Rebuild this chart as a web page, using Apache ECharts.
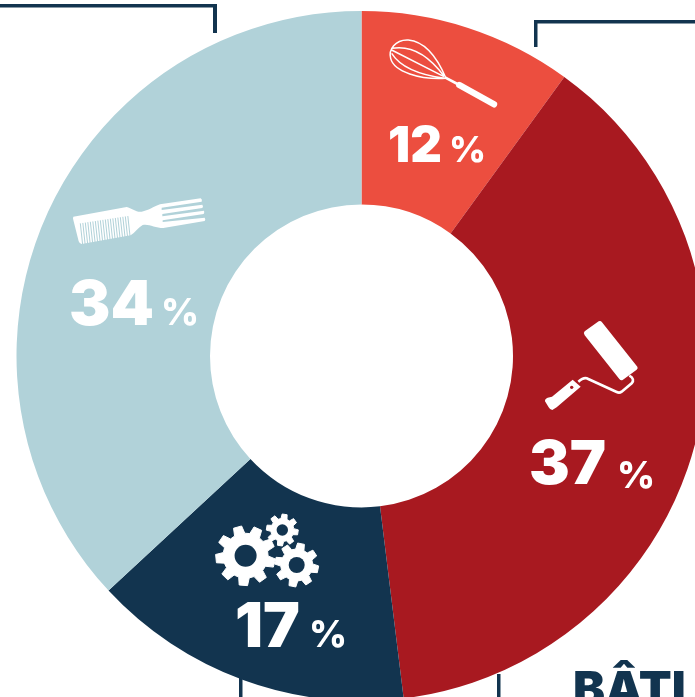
<!DOCTYPE html>
<html><head><meta charset="utf-8">
<style>html,body{margin:0;padding:0;background:#fff;overflow:hidden}#c{width:695px;height:697px}</style>
<script src="https://cdn.jsdelivr.net/npm/echarts@6/dist/echarts.min.js"></script>
</head><body><div id="c"></div>
<script>
// Share of each slice as drawn, and the printed labels
const sliceShares = [10.0, 38.05, 15.05, 36.9];
const printedPercent = ['12', '37', '17', '34'];
const sliceColors = ['#EC4E3F', '#A81920', '#12344F', '#B1D2D9'];
const headingText = 'BÂTI';

const NAVY = '#12344F', WHITE = '#fff', FONT = 'Inter, "Open Sans", sans-serif';
const Z = 10;

function label(t, left, base, size, weight, fill) {
  return {type:'text', silent:true, z:Z, style:{text:t, x:left, y:base - 0.32*size, fill:fill, font:weight+' '+size+'px '+FONT, verticalAlign:'middle'}};
}
function bar(x, y, w, h) {
  return {type:'rect', silent:true, z:1, shape:{x, y, width:w, height:h}, style:{fill:NAVY}};
}
function gear(cx, cy, ro, ri, hole, n, rot, holeFill) {
  const pts = [];
  for (let i = 0; i < n; i++) {
    const a = rot + i * 2 * Math.PI / n, s = 2 * Math.PI / n;
    [[-0.34,ri],[-0.2,ro],[0.2,ro],[0.34,ri]].forEach(p => {
      pts.push([cx + p[1] * Math.cos(a + p[0]*s), cy + p[1] * Math.sin(a + p[0]*s)]);
    });
  }
  return [
    {type:'polygon', silent:true, z:Z, shape:{points:pts}, style:{fill:WHITE, stroke:WHITE, lineWidth:1, lineJoin:'round'}},
    {type:'circle', silent:true, z:Z, z2:1, shape:{cx, cy, r:hole}, style:{fill:holeFill}}
  ];
}
let iconCount = 0;
function icon(path, pos, style, z2) {
  const name = 'iconShape' + (iconCount++);
  echarts.graphic.registerShape(name, echarts.graphic.extendPath(path, {}));
  return {type:name, silent:true, z:Z, z2:z2||0, x:pos[0], y:pos[1], scaleX:1/3, scaleY:1/3, style};
}

// Whisk (drawn in 3x crop units)
const whiskPos = [370,0];
const whisk = [
  icon('M228,235 C205,180 170,125 115,120 C75,118 55,150 62,175 C72,215 150,240 228,235 M65,145 C120,135 175,165 222,228 M65,150 L222,230 M65,160 C90,200 150,225 225,235', whiskPos, {fill:'none', stroke:WHITE, lineWidth:4.5}),
  icon('M225,232 L268,255', whiskPos, {fill:'none', stroke:WHITE, lineWidth:8}),
  icon('M268,255 L372,313', whiskPos, {fill:'none', stroke:WHITE, lineWidth:19, lineCap:'round'})
];
// Paint roller
const rollerPos = [520,310];
const roller = [
  icon('M194,64 L236,34 Q242,31 246,37 L352,170 Q355,175 350,179 L309,209 Q303,213 298,207 L194,76 Q189,69 194,64 Z', rollerPos, {fill:WHITE}),
  icon('M328,197 C340,203 342,212 335,220 L305,245 Q298,250 290,246 L200,205 Q190,202 175,215', rollerPos, {fill:'none', stroke:WHITE, lineWidth:8}),
  icon('M158,209 L182,230 L110,292 L97,300 Q89,299 86,292 L75,274 Q74,267 83,263 L96,260 Z', rollerPos, {fill:WHITE}),
  icon('M150,232 a5,5 0 1,0 10,0 a5,5 0 1,0 -10,0 Z', rollerPos, {fill:'#A81920'}, 1)
];
// Afro comb / fork
const combPos = [60,190];
const slits = [];
for (let i = 0; i < 20; i++) {
  const tx = 61 + i * 7.5, ty = 100 - i * 1.15;
  slits.push('M' + tx + ',' + ty + ' L' + (tx + 7) + ',' + (ty + 65));
}
const comb = [
  icon('M40,80 L200,51 C215,55 230,68 245,65 C265,62 280,50 300,43 L422,25 Q428,29 425,35 L305,53 L305,60 L427,44 Q431,49 427,54 L307,72 L307,79 L432,62 Q434,67 431,72 L308,91 L308,96 L434,83 Q438,88 434,93 L310,114 C285,114 265,100 248,105 C235,112 225,128 212,136 L65,162 Q58,160 56,154 L40,90 Q38,84 40,80 Z', combPos, {fill:WHITE}),
  icon(slits.join(' '), combPos, {fill:'none', stroke:'#B1D2D9', lineWidth:3}, 1)
];
// Gears
const gears = []
  .concat(gear(245.6, 555.7, 30, 22.5, 11, 9, 0.25, NAVY))
  .concat(gear(296.7, 565, 22, 16, 8, 8, 0.2, NAVY))
  .concat(gear(282.3, 530, 16, 11.5, 5.7, 8, 0.15, NAVY));

const labels = [
  [388,163,49,449,163,36],
  [529,485,61,617,489,37],
  [235,648,62,309,648,37],
  [69,326,62,161,326,37]
];
const texts = [];
labels.forEach((l, i) => {
  texts.push(label(printedPercent[i], l[0], l[1], l[2], 900, WHITE));
  texts.push(label('%', l[3], l[4], l[5], 800, WHITE));
});

const chart = echarts.init(document.getElementById('c'), null, {renderer:'canvas'});
chart.setOption({
  animation:false,
  backgroundColor:'#fff',
  series:[{
    type:'pie', silent:true, startAngle:90, clockwise:true,
    center:[361.5,356], radius:[151.5,345],
    label:{show:false}, labelLine:{show:false},
    emphasis:{disabled:true},
    data:sliceShares.map((v,i)=>({value:v, name:printedPercent[i]+' %', itemStyle:{color:sliceColors[i]}}))
  }],
  graphic:{elements:[
    bar(0,4,217,3.5), bar(213,4,4,29),
    bar(534,20,161,3.5), bar(534,20,3.5,27),
    bar(239,677,3.5,20), bar(497,674,3.5,23),
    label(headingText, 573, 707, 48, 900, NAVY)
  ].concat(whisk, roller, comb, gears, texts)}
});
</script></body></html>
